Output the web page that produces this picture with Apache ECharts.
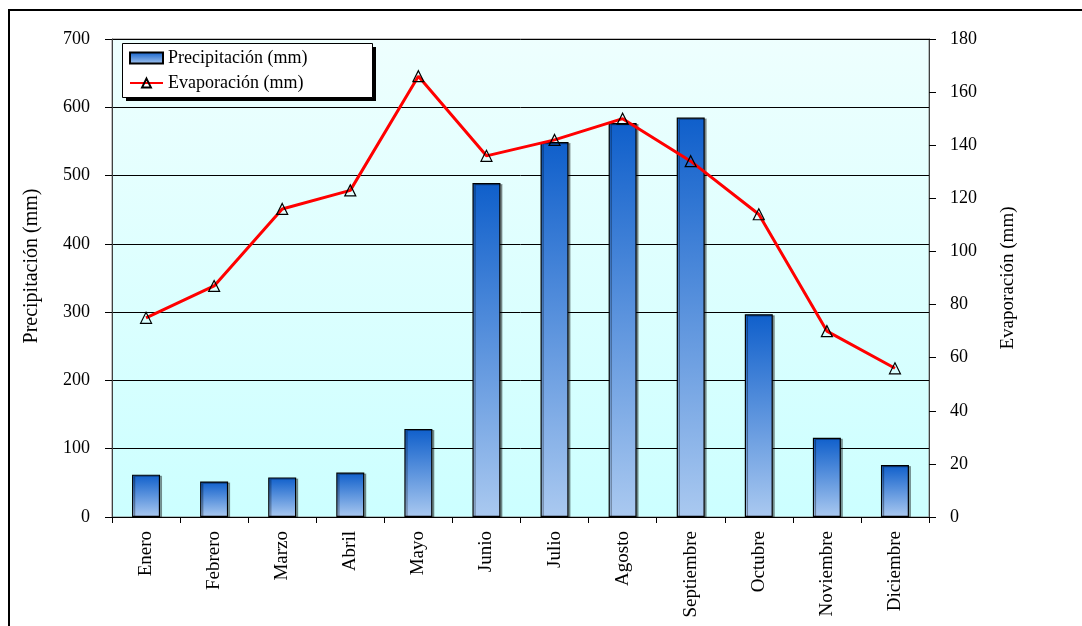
<!DOCTYPE html>
<html>
<head>
<meta charset="utf-8">
<script src="https://cdn.jsdelivr.net/npm/echarts@6/dist/echarts.min.js"></script>
<style>
html,body{margin:0;padding:0;background:#fff;}
#c{width:1082px;height:626px;}
</style>
</head>
<body>
<div id="c"></div>
<script>
var months = ['Enero','Febrero','Marzo','Abril','Mayo','Junio','Julio','Agosto','Septiembre','Octubre','Noviembre','Diciembre'];
var precipitacion = [62, 52, 58, 65, 129, 489, 549, 577, 585, 297, 116, 76];
var evaporacion = [75, 87, 116, 123, 166, 136, 142, 150, 134, 114, 70, 56];
var leftTicks = {min: 0, max: 700, interval: 100};
var rightTicks = {min: 0, max: 180, interval: 20};

var serif = '"Liberation Serif", "Times New Roman", serif';
var chart = echarts.init(document.getElementById('c'));
chart.setOption({
  animation: false,
  backgroundColor: '#ffffff',
  textStyle: {fontFamily: serif},
  graphic: [{
    type: 'rect', silent: true, z: -10,
    shape: {x: 9, y: 10, width: 1200, height: 800},
    style: {fill: 'none', stroke: '#000', lineWidth: 2}
  }, {
    type: 'rect', silent: true, z: 1,
    shape: {x: 126, y: 47, width: 250, height: 54},
    style: {fill: '#000'}
  }, {
    type: 'rect', silent: true, z: 2,
    shape: {x: 122.5, y: 43.5, width: 250, height: 54},
    style: {fill: '#fff', stroke: '#000', lineWidth: 1}
  }],
  grid: {
    left: 112, right: 153, top: 39, bottom: 109,
    show: true, borderColor: '#808080', borderWidth: 1,
    backgroundColor: new echarts.graphic.LinearGradient(0, 0, 0, 1, [
      {offset: 0, color: '#eefffe'}, {offset: 1, color: '#ccffff'}
    ])
  },
  legend: {
    left: 129, top: 48, orient: 'vertical', itemGap: 5, z: 10,
    itemWidth: 33, itemHeight: 11,
    padding: 0,
    textStyle: {fontFamily: serif, fontSize: 18, color: '#000', lineHeight: 20},
    data: [{name: 'Precipitación (mm)', icon: 'rect'}, {name: 'Evaporación (mm)'}]
  },
  xAxis: {
    type: 'category', data: months, boundaryGap: true,
    axisLine: {lineStyle: {color: '#000', width: 1}},
    axisTick: {show: true, length: 6, lineStyle: {color: '#000'}},
    axisLabel: {rotate: 90, color: '#000', fontSize: 19, fontFamily: serif, margin: 14}
  },
  yAxis: [{
    type: 'value', min: leftTicks.min, max: leftTicks.max, interval: leftTicks.interval,
    name: 'Precipitación (mm)', nameLocation: 'middle', nameGap: 70,
    nameTextStyle: {fontSize: 20, color: '#000', fontFamily: serif, padding: [0, 0, 0, 24]},
    axisLine: {show: true, lineStyle: {color: '#404040'}},
    axisTick: {show: true, length: 7, lineStyle: {color: '#000'}},
    axisLabel: {color: '#000', fontSize: 18, fontFamily: serif, margin: 22},
    splitLine: {show: true, lineStyle: {color: '#000', width: 1}}
  }, {
    type: 'value', min: rightTicks.min, max: rightTicks.max, interval: rightTicks.interval,
    name: 'Evaporación (mm)', nameLocation: 'middle', nameGap: 70,
    nameTextStyle: {fontSize: 19, color: '#000', fontFamily: serif},
    position: 'right',
    axisLine: {show: true, lineStyle: {color: '#404040'}},
    axisTick: {show: true, length: 7, lineStyle: {color: '#000'}},
    axisLabel: {color: '#000', fontSize: 18, fontFamily: serif, margin: 21},
    splitLine: {show: false}
  }],
  series: [{
    name: 'Precipitación (mm)', type: 'bar', yAxisIndex: 0, barWidth: 28,
    data: precipitacion,
    itemStyle: {
      color: new echarts.graphic.LinearGradient(0, 0, 0, 1, [
        {offset: 0, color: '#0f5fcb'}, {offset: 1, color: '#aac9f0'}
      ]),
      borderColor: '#000', borderWidth: 1.2,
      shadowColor: 'rgba(0,0,0,0.35)', shadowOffsetX: 2, shadowOffsetY: 1
    }
  }, {
    name: 'Evaporación (mm)', type: 'line', yAxisIndex: 1,
    data: evaporacion,
    symbol: 'triangle', symbolSize: 11, showSymbol: true,
    lineStyle: {color: '#ff0000', width: 3},
    itemStyle: {color: 'rgba(255,255,255,0)', borderColor: '#000', borderWidth: 1.2}
  }]
});
</script>
</body>
</html>
